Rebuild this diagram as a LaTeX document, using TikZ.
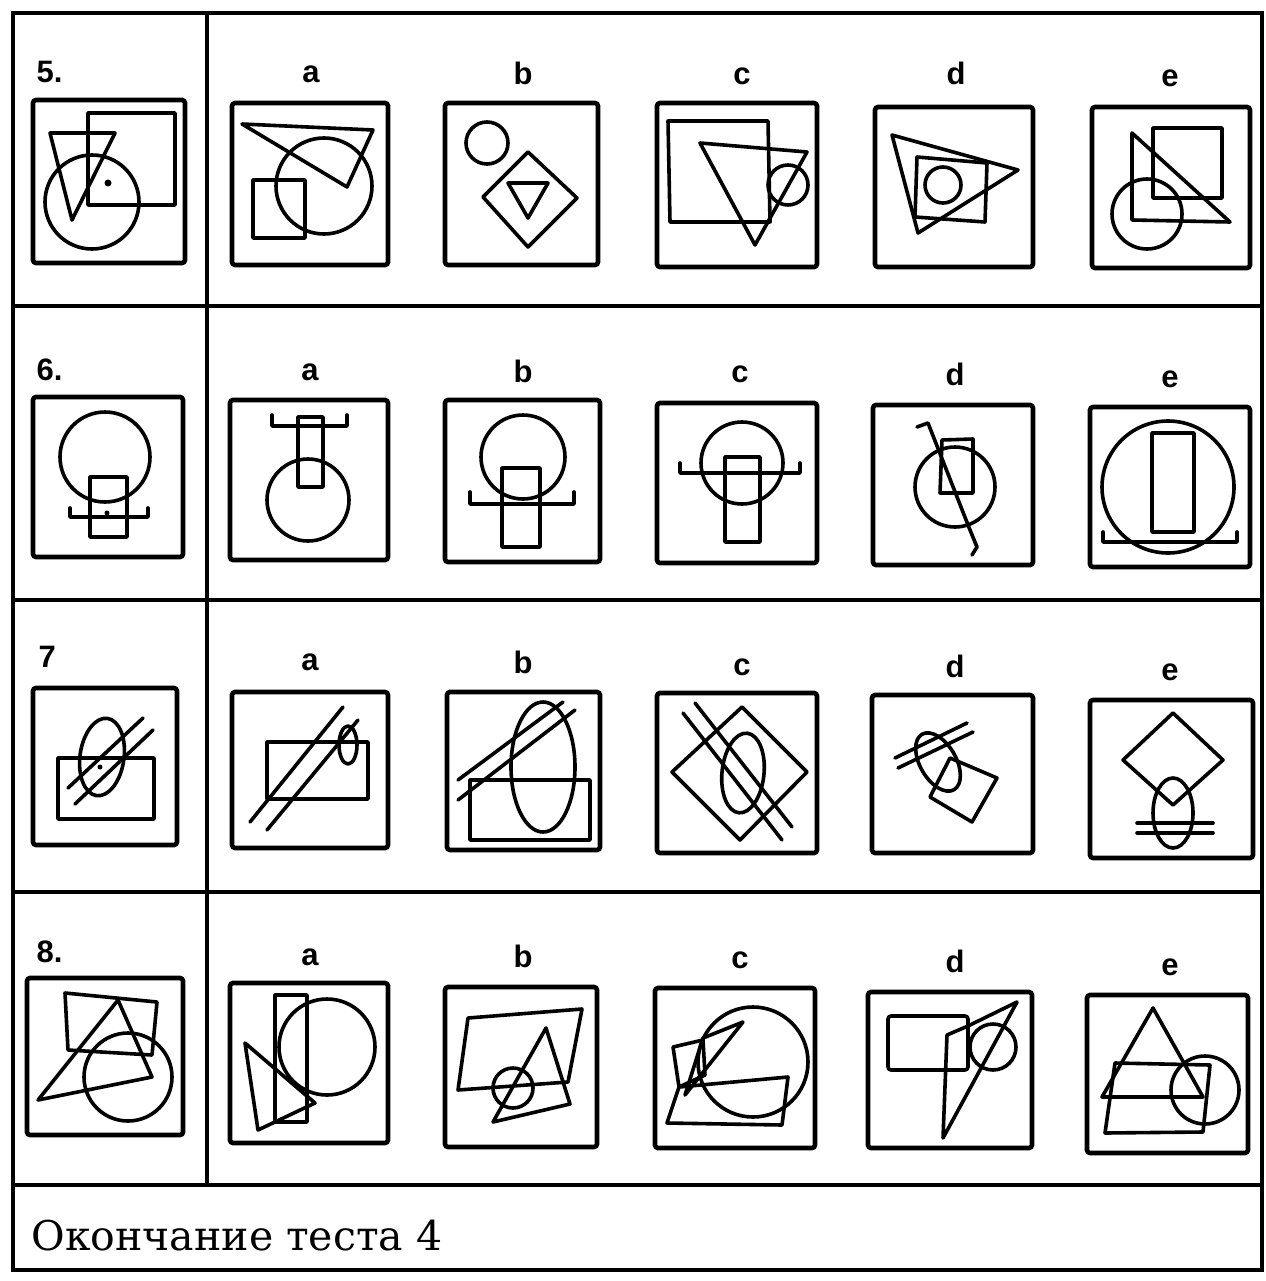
\documentclass[tikz,border=0pt]{standalone}
\usepackage{fontspec}
\newfontfamily\lblfont{Liberation Sans}
\newfontfamily\cyrfont{DejaVu Serif}

\tikzset{
  gridline/.style={line width=3.8pt},
  cellbox/.style={line width=4.6pt, rounded corners=3pt},
  fig/.style={line width=3.6pt, line join=round, line cap=round},
  lbl/.style={anchor=base, font=\lblfont\bfseries\fontsize{31}{31}\selectfont},
  num/.style={anchor=base west, font=\lblfont\bfseries\fontsize{31}{31}\selectfont},
}

\begin{document}
\begin{tikzpicture}[x=1pt,y=-1pt]
    \useasboundingbox (0,0) rectangle (1265,1281);
    \draw[gridline] (13,13) rectangle (1262,1270);
    \draw[gridline] (207,13) -- (207,1185);
    \draw[gridline] (13,306) -- (1262,306);
    \draw[gridline] (13,600) -- (1262,600);
    \draw[gridline] (13,892) -- (1262,892);
    \draw[gridline] (13,1185) -- (1262,1185);

    % 5.
    \node[num] (n5) at (33,83) {5.};
    \node[lbl] (l5a) at (311,83) {a};
    \node[lbl] (l5b) at (523,85) {b};
    \node[lbl] (l5c) at (742,85) {c};
    \node[lbl] (l5d) at (956,85) {d};
    \node[lbl] (l5e) at (1170,87) {e};

    \draw[cellbox] (33,100) rectangle (185,263);
    \draw[fig] (88,113) rectangle (175,205);
    \draw[fig] (50,133) -- (115,133) -- (72,220) -- cycle;
    \draw[fig] (92,202) circle (47);
    \fill (108,183) circle (3.5);

    \draw[cellbox] (232,103) rectangle (388,265);
    \draw[fig] (242,124) -- (373,130) -- (347,187) -- cycle;
    \draw[fig] (324,186) circle (48);
    \draw[fig] (253,180) rectangle (305,238);

    \draw[cellbox] (445,103) rectangle (598,265);
    \draw[fig] (487,143) circle (21);
    \draw[fig] (528,152) -- (577,198) -- (528,247) -- (483,197) -- cycle;
    \draw[fig] (508,183) -- (548,183) -- (528,218) -- cycle;

    \draw[cellbox] (657,103) rectangle (817,267);
    \draw[fig] (668,121) -- (768,121) -- (770,222) -- (670,222) -- cycle;
    \draw[fig] (700,143) -- (807,152) -- (755,245) -- cycle;
    \draw[fig] (788,185) circle (20);

    \draw[cellbox] (875,107) rectangle (1033,267);
    \draw[fig] (892,135) -- (1018,170) -- (918,233) -- cycle;
    \draw[fig] (917,157) -- (987,163) -- (985,222) -- (915,217) -- cycle;
    \draw[fig] (943,185) circle (18);

    \draw[cellbox] (1092,107) rectangle (1250,268);
    \draw[fig] (1153,128) rectangle (1222,198);
    \draw[fig] (1132,133) -- (1230,222) -- (1132,220) -- cycle;
    \draw[fig] (1147,214) circle (35);

    % 6.
    \node[num] (n6) at (33,380) {6.};
    \node[lbl] (l6a) at (310,380) {a};
    \node[lbl] (l6b) at (523,382) {b};
    \node[lbl] (l6c) at (740,382) {c};
    \node[lbl] (l6d) at (955,385) {d};
    \node[lbl] (l6e) at (1170,387) {e};

    \draw[cellbox] (33,397) rectangle (183,557);
    \draw[fig] (105,457) circle (45);
    \draw[fig] (90,477) rectangle (127,537);
    \draw[fig] (70,508) -- (70,517) -- (148,517) -- (148,508);
    \fill (107,513) circle (2.5);

    \draw[cellbox] (230,400) rectangle (388,560);
    \draw[fig] (272,415) -- (272,426) -- (347,426) -- (347,415);
    \draw[fig] (298,417) rectangle (323,487);
    \draw[fig] (308,500) circle (41);

    \draw[cellbox] (445,400) rectangle (600,562);
    \draw[fig] (523,457) circle (42);
    \draw[fig] (502,468) rectangle (540,547);
    \draw[fig] (470,492) -- (470,504) -- (574,504) -- (574,492);

    \draw[cellbox] (657,403) rectangle (817,563);
    \draw[fig] (742,463) circle (41);
    \draw[fig] (725,457) rectangle (760,542);
    \draw[fig] (680,463) -- (680,473) -- (800,473) -- (800,463);

    \draw[cellbox] (873,405) rectangle (1033,565);
    \draw[fig] (955,487) circle (40);
    \draw[fig] (942,440) -- (973,439) -- (973,493) -- (940,493) -- cycle;
    \draw[fig] (917,427) -- (928,423) -- (970,530) -- (977,547) -- (972,555);

    \draw[cellbox] (1090,407) rectangle (1250,567);
    \draw[fig] (1168,487) circle (66);
    \draw[fig] (1152,433) rectangle (1194,532);
    \draw[fig] (1103,532) -- (1103,542) -- (1237,542) -- (1237,532);

    % 7
    \node[num] (n7) at (35,667) {7};
    \node[lbl] (l7a) at (310,670) {a};
    \node[lbl] (l7b) at (523,673) {b};
    \node[lbl] (l7c) at (742,675) {c};
    \node[lbl] (l7d) at (955,677) {d};
    \node[lbl] (l7e) at (1170,680) {e};

    \draw[cellbox] (33,688) rectangle (177,845);
    \draw[fig] (58,758) rectangle (154,819);
    \draw[fig, rotate around={-8:(102,757)}] (102,757) ellipse (22 and 39);
    \draw[fig] (68,788) -- (143,718);
    \draw[fig] (75,804) -- (153,730);
    \fill (100,767) circle (2.5);

    \draw[cellbox] (232,692) rectangle (388,848);
    \draw[fig] (267,742) rectangle (368,799);
    \draw[fig] (250,822) -- (343,707);
    \draw[fig] (267,830) -- (358,720);
    \draw[fig] (348,745) ellipse (9 and 19);

    \draw[cellbox] (447,692) rectangle (600,850);
    \draw[fig] (470,780) rectangle (590,840);
    \draw[fig] (543,767) ellipse (32 and 65);
    \draw[fig] (458,780) -- (563,702);
    \draw[fig] (458,800) -- (575,710);

    \draw[cellbox] (657,693) rectangle (817,853);
    \draw[fig] (742,707) -- (807,772) -- (740,840) -- (672,772) -- cycle;
    \draw[fig, rotate around={-6:(743,773)}] (743,773) ellipse (21 and 40);
    \draw[fig] (683,713) -- (782,840);
    \draw[fig] (695,703) -- (792,827);

    \draw[cellbox] (872,695) rectangle (1033,853);
    \draw[fig, rotate around={30:(938,762)}] (938,762) ellipse (18 and 32);
    \draw[fig] (950,758) -- (997,778) -- (972,822) -- (930,797) -- cycle;
    \draw[fig] (895,758) -- (967,723);
    \draw[fig] (898,768) -- (973,732);

    \draw[cellbox] (1090,700) rectangle (1253,858);
    \draw[fig] (1173,713) -- (1223,760) -- (1173,805) -- (1123,760) -- cycle;
    \draw[fig] (1173,813) ellipse (20 and 35);
    \draw[fig] (1137,823) -- (1213,823);
    \draw[fig] (1137,833) -- (1213,833);

    % 8.
    \node[num] (n8) at (33,962) {8.};
    \node[lbl] (l8a) at (310,965) {a};
    \node[lbl] (l8b) at (523,967) {b};
    \node[lbl] (l8c) at (740,968) {c};
    \node[lbl] (l8d) at (955,972) {d};
    \node[lbl] (l8e) at (1170,975) {e};

    \draw[cellbox] (27,978) rectangle (183,1135);
    \draw[fig] (65,993) -- (157,1002) -- (152,1055) -- (68,1050) -- cycle;
    \draw[fig] (118,1000) -- (38,1100) -- (152,1077) -- cycle;
    \draw[fig] (128,1077) circle (44);

    \draw[cellbox] (230,983) rectangle (388,1143);
    \draw[fig] (327,1047) circle (48);
    \draw[fig] (275,995) rectangle (307,1122);
    \draw[fig] (245,1043) -- (315,1103) -- (258,1130) -- cycle;

    \draw[cellbox] (445,987) rectangle (597,1147);
    \draw[fig] (468,1018) -- (582,1009) -- (568,1082) -- (458,1090) -- cycle;
    \draw[fig] (546,1028) -- (570,1104) -- (493,1122) -- cycle;
    \draw[fig] (513,1088) circle (20);

    \draw[cellbox] (655,988) rectangle (815,1148);
    \draw[fig] (753,1062) circle (55);
    \draw[fig] (673,1047) -- (703,1040) -- (705,1075) -- (679,1087) -- cycle;
    \draw[fig] (679,1087) -- (788,1077) -- (782,1125) -- (667,1123) -- cycle;
    \draw[fig] (743,1022) -- (685,1095) -- (703,1038) -- cycle;

    \draw[cellbox] (868,992) rectangle (1032,1148);
    \draw[fig, rounded corners=3pt] (888,1016) rectangle (968,1070);
    \draw[fig] (993,1047) circle (23);
    \draw[fig] (943,1138) -- (947,1035) -- (968,1026) -- (1017,1002) -- cycle;

    \draw[cellbox] (1087,995) rectangle (1248,1153);
    \draw[fig] (1153,1008) -- (1203,1097) -- (1102,1097) -- cycle;
    \draw[fig] (1115,1063) -- (1210,1065) -- (1203,1132) -- (1105,1133) -- cycle;
    \draw[fig] (1205,1090) circle (34);

    \node[anchor=base west, font=\cyrfont\fontsize{41}{44}\selectfont] (tail) at (28,1250) {Окончание теста 4};
\end{tikzpicture}
\end{document}
